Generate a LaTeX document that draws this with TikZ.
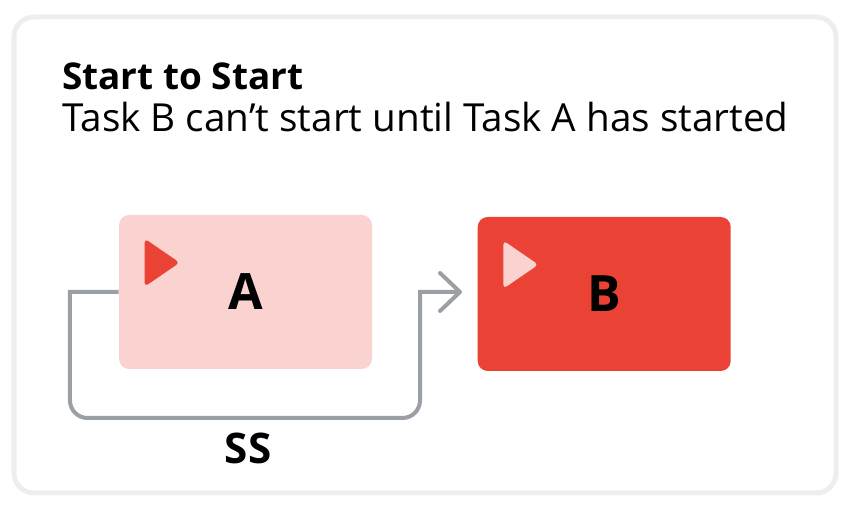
\documentclass[tikz,border=0pt]{standalone}
\usepackage{fontspec}
\setmainfont{Open Sans}
\usetikzlibrary{arrows.meta}
\usetikzlibrary{positioning}
\definecolor{taskred}{HTML}{EA4335}
\definecolor{taskpink}{HTML}{FAD2CF}
\definecolor{linkgray}{HTML}{9AA0A6}
\definecolor{framegray}{HTML}{EDEEF0}

\begin{document}
\begin{tikzpicture}
	\tikzset{
	  task/.style={rounded corners=0.2cm,minimum width=5.06cm,minimum height=3.08cm,inner sep=0pt,font=\fontsize{28.5}{30}\selectfont\bfseries},
	  link/.style={draw=linkgray,line width=0.08cm},
	  pics/play/.style args={#1}{code={
		\fill[#1,rounded corners=0.08cm] (0.52,-0.48) -- (0.52,-1.44) -- (1.22,-0.96) -- cycle ;
		},
	  }
	}
	\useasboundingbox (0,0) rectangle (16.96,10.1);
	%FRAME
	\draw[framegray,line width=0.1cm,rounded corners=0.4cm] (0.28,0.24) rectangle (16.72,9.76);
	%TITLE
	\node[anchor=base west,inner sep=0pt,font=\fontsize{21}{24}\selectfont\bfseries] (title) at (1.24,8.3) {Start to Start};
	\node[anchor=base west,inner sep=0pt,font=\fontsize{22}{24}\selectfont] (subtitle) at (1.24,7.47) {Task B can’t start until Task A has started};
	%TASKS
	\node[task,fill=taskpink] (A) at (4.91,4.26) {A};
	\node[task,fill=taskred,right=2.1cm of A,yshift=-0.04cm] (B) {B};
	\draw (A.north west) pic {play={taskred}};
	\draw (B.north west) pic {play={taskpink}};
	%LINK
	\coordinate (end) at (9.24,4.26);
	\draw[link,-{Straight Barb[length=0.4cm,width=0.76cm,round]}] (A.west) -- (1.4,4.26) [rounded corners=0.35cm] -- (1.4,1.74) -- (8.4,1.74) [sharp corners] -- (8.4,4.26) -- (end);
	\node[inner sep=0pt,font=\fontsize{24}{26}\selectfont\bfseries] (ss) at (4.96,1.14) {SS};
\end{tikzpicture}
\end{document}
